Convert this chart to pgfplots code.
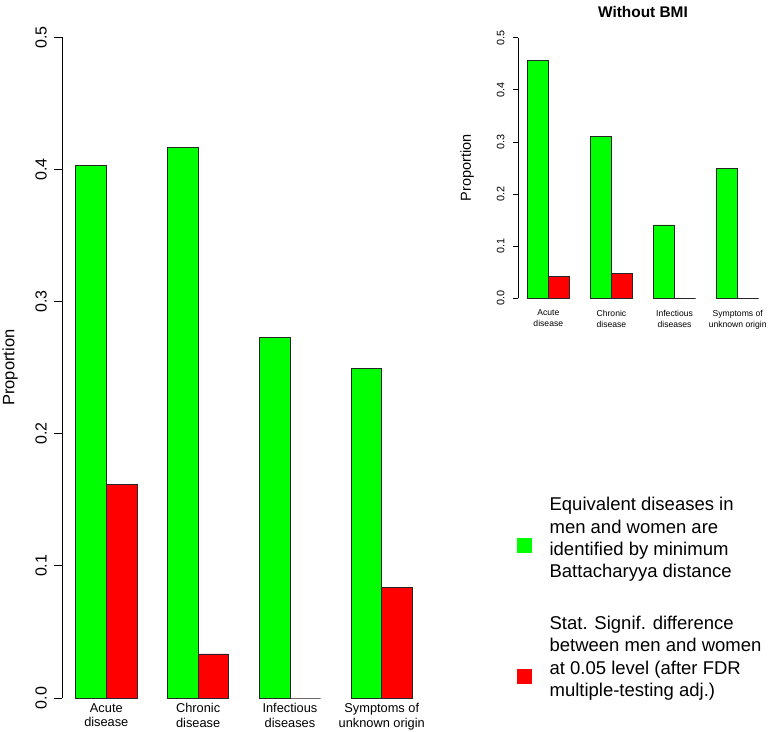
\documentclass[border=0pt]{standalone}
\usepackage{fontspec}
\setmainfont{Liberation Sans}
\usepackage{pgfplots}
\pgfplotsset{compat=1.18}
\definecolor{rgreen}{RGB}{0,255,0}
\definecolor{rred}{RGB}{255,0,0}
\pgfplotsset{
  mybase/.style={
    scale only axis, clip=false,
    ymin=0, ymax=0.5, xmin=0.56, xmax=12.44,
    axis lines*=left,
    x axis line style={draw=none},
    x tick style={draw=none},
    y axis line style={line width=0.8pt, black},
    y tick style={line width=0.8pt, black},
    tick align=outside,
    ytick={0,0.1,0.2,0.3,0.4,0.5},
    xtick={2,5,8,11},
    yticklabel style={rotate=90, anchor=south,
      /pgf/number format/fixed, /pgf/number format/fixed zerofill,
      /pgf/number format/precision=1, /pgf/number format/assume math mode=true},
    xticklabel style={align=center, anchor=north},
    ylabel={Proportion},
  },
  gbar/.style={ybar, bar width=1, bar shift=0pt, fill=rgreen, draw=black!85, line width=0.8pt, forget plot},
  rbar/.style={ybar, bar width=1, bar shift=0pt, fill=rred, draw=black!85, line width=0.8pt, forget plot},
}
\begin{document}
\begin{tikzpicture}
\path[use as bounding box] (0pt,0pt) rectangle (768pt,731pt);
% main chart
\begin{axis}[mybase,
  at={(62.24pt,33pt)}, anchor=south west,
  width=363.6pt, height=660.7pt,
  major tick length=8pt,
  yticklabel shift=4pt,
  yticklabel style={font=\fontsize{16}{19}\selectfont},
  ylabel style={font=\fontsize{16.5}{19}\selectfont, at={(axis description cs:-0.1437,0.5)}, anchor=center},
  xticklabel style={font=\fontsize{12.8}{14.6}\selectfont, yshift=4.5pt, inner sep=1.5pt},
  xticklabels={{Acute\\disease},{Chronic\\disease},{Infectious\\diseases},{Symptoms of\\unknown origin}},
  legend style={at={(axis description cs:1.2507,0.304)}, anchor=north west, draw=none, fill=none,
    inner sep=0pt, nodes={inner sep=0pt}, cells={align=left, anchor=west},
    font=\fontsize{18.5}{22.3}\selectfont, row sep=37pt, column sep=18pt},
]
\addplot[gbar] coordinates {(1.5,0.4028) (4.5,0.4165) (7.5,0.2727) (10.5,0.2495)};
\addplot[rbar] coordinates {(2.5,0.1617) (5.5,0.0333) (8.5,0) (11.5,0.0835)};
\addlegendimage{legend image code/.code={\fill[rgreen] (0pt,-14pt) rectangle (14pt,0pt);}}
\addlegendentry{Equivalent diseases in\\men and women are\\identified by minimum\\Battacharyya distance}
\addlegendimage{legend image code/.code={\fill[rred] (0pt,-26pt) rectangle (14pt,-12pt);}}
\addlegendentry{Stat. Signif. difference\\between men and women\\at 0.05 level (after FDR\\multiple-testing adj.)}
\end{axis}
% inset chart
\begin{axis}[mybase,
  at={(518pt,432.7pt)}, anchor=south west,
  width=250pt, height=260.6pt,
  major tick length=5pt,
  yticklabel shift=5pt,
  yticklabel style={font=\fontsize{10.8}{13}\selectfont},
  ylabel style={font=\fontsize{14.5}{17}\selectfont, at={(axis description cs:-0.204,0.5)}, anchor=center},
  xticklabel style={font=\fontsize{8.6}{11}\selectfont, yshift=-3pt},
  xticklabels={{Acute\\disease},{Chronic\\disease},{Infectious\\diseases},{Symptoms of\\unknown origin}},
  title={Without BMI},
  title style={font=\bfseries\fontsize{15.4}{18}\selectfont, at={(axis description cs:0.5,1)}, anchor=center, yshift=19.5pt},
]
\addplot[gbar] coordinates {(1.5,0.457) (4.5,0.310) (7.5,0.1407) (10.5,0.249)};
\addplot[rbar] coordinates {(2.5,0.0415) (5.5,0.048) (8.5,0) (11.5,0)};
\end{axis}
\end{tikzpicture}
\end{document}
